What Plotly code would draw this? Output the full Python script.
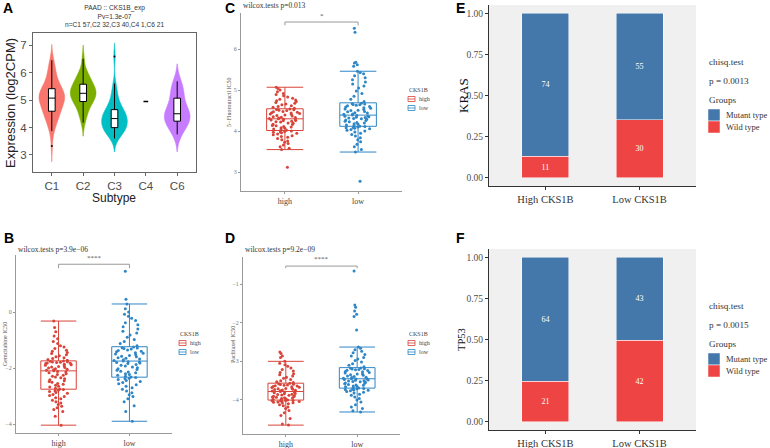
import plotly.graph_objects as go

W, H = 770, 448

# ---------------- data ----------------
subtypes = ["C1", "C2", "C3", "C4", "C6"]
c1_expr = [3.33, 3.87, 3.95, 4.05, 4.15, 4.22, 4.3, 4.36, 4.42, 4.47, 4.5, 4.53, 4.55, 4.57,
           4.6, 4.65, 4.7, 4.75, 4.8, 4.84, 4.88, 4.92, 4.95, 4.98, 5.0, 5.02, 5.04, 5.06,
           5.07,
           5.09, 5.11, 5.13, 5.15, 5.17, 5.19, 5.21, 5.24, 5.27, 5.3, 5.33, 5.36, 5.38, 5.4,
           5.45, 5.5, 5.55, 5.6, 5.66, 5.72, 5.8, 5.88, 5.96, 6.05, 6.15, 6.25, 6.35, 6.45]
c2_expr = [4.18, 4.35, 4.5, 4.62, 4.72, 4.8, 4.86, 4.92,
           4.97, 5.02, 5.07, 5.11, 5.15, 5.18, 5.21,
           5.23, 5.26, 5.3, 5.34, 5.38, 5.42, 5.46, 5.5,
           5.55, 5.6, 5.66, 5.72, 5.8, 5.88, 5.96, 6.05, 6.5]
c3_expr = [3.6, 3.68, 3.75, 3.8, 3.85, 3.88, 3.91, 3.94, 3.96, 3.98,
           4.01, 4.05, 4.08, 4.12, 4.15, 4.19, 4.22, 4.25, 4.28, 4.31,
           4.34, 4.37, 4.4, 4.43, 4.46, 4.5, 4.53, 4.56, 4.59, 4.62,
           4.68, 4.75, 4.82, 4.9, 5.0, 5.1, 5.25, 5.4, 5.6, 6.58]
c4_expr = [4.95]
c6_expr = [3.75, 3.9, 4.02, 4.12, 4.2, 4.24, 4.3, 4.36, 4.42, 4.47, 4.5,
           4.56, 4.64, 4.73, 4.85, 5.03, 5.18, 5.3, 5.42, 5.55, 5.68]

cks1b_groups = ["high", "low"]
gem_high = [-4.04, -3.72, -3.55, -3.48, -3.42, -3.36, -3.3, -3.25, -3.2, -3.15, -3.1, -3.06, -3.02,
            -2.98, -2.94, -2.9, -2.87, -2.84, -2.81, -2.79, -2.77,
            -2.75,
            -2.72, -2.68, -2.65, -2.61, -2.58, -2.55, -2.51, -2.48, -2.45, -2.42, -2.38, -2.35,
            -2.32, -2.29, -2.26, -2.23, -2.2, -2.17, -2.14, -2.12,
            -2.1,
            -2.08, -2.06, -2.04, -2.02, -2.0, -1.98, -1.96, -1.94, -1.92, -1.9, -1.88, -1.86,
            -1.84, -1.83, -1.82, -1.8, -1.79, -1.78, -1.77, -1.76,
            -1.75,
            -1.72, -1.69, -1.66, -1.63, -1.6, -1.56, -1.52, -1.48, -1.44, -1.4, -1.36, -1.3,
            -1.25, -1.2, -1.12, -1.05, -0.95, -0.85, -0.7, -0.55, -0.32]
gem_low = [-3.9, -3.55, -3.35, -3.2, -3.1, -3.02, -2.95, -2.88, -2.82, -2.76, -2.7, -2.65, -2.6,
           -2.56, -2.52, -2.48, -2.44, -2.41, -2.38, -2.36, -2.34,
           -2.32,
           -2.29, -2.26, -2.23, -2.2, -2.17, -2.14, -2.11, -2.08, -2.05, -2.02, -1.99, -1.96,
           -1.93, -1.9, -1.87, -1.84, -1.82, -1.8, -1.78, -1.77,
           -1.75,
           -1.73, -1.7, -1.68, -1.65, -1.63, -1.6, -1.58, -1.55, -1.52, -1.5, -1.47, -1.45,
           -1.42, -1.4, -1.37, -1.35, -1.32, -1.3, -1.28, -1.27,
           -1.25,
           -1.2, -1.12, -1.05, -0.98, -0.9, -0.82, -0.75, -0.68, -0.6, -0.52, -0.45, -0.38,
           -0.3, -0.22, -0.15, -0.08, 0.0, 0.12, 0.29, 0.46, 1.46]
fu_high = [3.12, 3.55, 3.58, 3.62, 3.66, 3.7, 3.73, 3.76, 3.79, 3.82, 3.85, 3.87, 3.89, 3.91,
           3.93, 3.95, 3.96, 3.97, 3.98, 3.99, 4.0,
           4.02,
           4.04, 4.05, 4.07, 4.08, 4.1, 4.11, 4.13, 4.14, 4.16, 4.17, 4.19, 4.2, 4.22, 4.23,
           4.24, 4.25, 4.26, 4.27, 4.28, 4.29,
           4.3,
           4.31, 4.32, 4.33, 4.34, 4.35, 4.37, 4.38, 4.39, 4.41, 4.42, 4.43, 4.44, 4.45, 4.46,
           4.47, 4.48, 4.5, 4.51, 4.52, 4.53,
           4.54,
           4.56, 4.58, 4.6, 4.62, 4.64, 4.66, 4.68, 4.7, 4.72, 4.74, 4.76, 4.78, 4.8, 4.83,
           4.86, 4.89, 4.92, 4.96, 5.0, 5.04, 5.07]
fu_low = [2.78, 3.49, 3.55, 3.62, 3.68, 3.74, 3.79, 3.84, 3.88, 3.92, 3.95, 3.98, 4.0, 4.02,
          4.04, 4.06, 4.07, 4.08, 4.09, 4.1, 4.11,
          4.12,
          4.14, 4.15, 4.17, 4.18, 4.2, 4.21, 4.23, 4.24, 4.26, 4.27, 4.29, 4.3, 4.31, 4.32,
          4.33, 4.34, 4.35, 4.36, 4.37, 4.38,
          4.39,
          4.41, 4.42, 4.44, 4.45, 4.47, 4.48, 4.5, 4.51, 4.53, 4.54, 4.56, 4.57, 4.59, 4.6,
          4.62, 4.63, 4.64, 4.65, 4.66, 4.67,
          4.68,
          4.72, 4.78, 4.85, 4.92, 4.98, 5.05, 5.1, 5.15, 5.2, 5.25, 5.3, 5.35, 5.4, 5.43,
          5.46, 5.58, 5.62, 5.66, 5.68, 6.41, 6.51]
pac_high = [-4.65, -4.62, -4.48, -4.4, -4.33, -4.27, -4.22, -4.18, -4.15, -4.12, -4.1, -4.08,
            -4.07, -4.06, -4.05, -4.04, -4.03, -4.02, -4.02, -4.01, -4.01,
            -4.0,
            -3.99, -3.98, -3.97, -3.96, -3.95, -3.94, -3.93, -3.92, -3.91, -3.9, -3.89, -3.88,
            -3.87, -3.86, -3.85, -3.84, -3.83, -3.81, -3.8, -3.79,
            -3.78,
            -3.77, -3.76, -3.75, -3.74, -3.73, -3.72, -3.71, -3.7, -3.69, -3.68, -3.67, -3.66,
            -3.65, -3.64, -3.63, -3.62, -3.61, -3.6, -3.59, -3.58,
            -3.57,
            -3.55, -3.53, -3.5, -3.47, -3.44, -3.41, -3.38, -3.35, -3.32, -3.29, -3.25, -3.21,
            -3.17, -3.13, -3.09, -3.05, -3.0, -2.9, -2.86, -2.8, -2.76]
pac_low = [-4.31, -4.28, -4.22, -4.18, -4.12, -4.05, -4.0, -3.96, -3.92, -3.88, -3.85, -3.82,
           -3.8, -3.78, -3.76, -3.75, -3.74, -3.73, -3.72, -3.71, -3.7,
           -3.69,
           -3.68, -3.66, -3.65, -3.64, -3.62, -3.61, -3.6, -3.58, -3.57, -3.56, -3.54, -3.53,
           -3.52, -3.51, -3.5, -3.49, -3.48, -3.47, -3.46, -3.46,
           -3.45,
           -3.44, -3.42, -3.41, -3.39, -3.38, -3.36, -3.35, -3.33, -3.32, -3.3, -3.29, -3.27,
           -3.26, -3.24, -3.23, -3.22, -3.21, -3.2, -3.19, -3.18,
           -3.17,
           -3.14, -3.1, -3.06, -3.02, -2.98, -2.94, -2.9, -2.86, -2.82, -2.78, -2.74, -2.7,
           -2.66, -2.63, -2.19, -1.84, -1.78, -1.7, -1.6, -1.54, -0.66]

bar_groups = ["High CKS1B", "Low CKS1B"]
kras_wild = [11, 30]
kras_mutant = [74, 55]
tp53_wild = [21, 42]
tp53_mutant = [64, 43]

# ---------------- styling ----------------
sans = "Liberation Sans"
serif = "Liberation Serif"
violin_cols = {"C1": "#F8766D", "C2": "#7CAE00", "C3": "#00BFC4", "C6": "#C77CFF"}
col_high = "#D8443A"
col_low = "#2F86C6"
col_mutant = "#4477AA"
col_wild = "#EE4444"


def pxx(a, b):
    return [a / W, b / W]


def pxy(top, bottom):
    return [1 - bottom / H, 1 - top / H]


fig = go.Figure()

# ---- A: violins ----
for name, vals in [("C1", c1_expr), ("C2", c2_expr), ("C3", c3_expr), ("C6", c6_expr)]:
    c = violin_cols[name]
    fig.add_trace(go.Violin(
        x=[name] * len(vals), y=vals, xaxis="x", yaxis="y",
        fillcolor=c, line=dict(color=c, width=0.5), opacity=1,
        width=0.82, scalemode="width", spanmode="soft",
        box=dict(visible=True, width=0.26, fillcolor="white", line=dict(color="black", width=1)),
        meanline=dict(visible=False), points="outliers", pointpos=0, jitter=0,
        marker=dict(color="black", size=2), showlegend=False, hoverinfo="skip"))
fig.add_trace(go.Box(x=["C4"] * len(c4_expr), y=c4_expr, xaxis="x", yaxis="y",
                     width=0.15, fillcolor="white", line=dict(color="black", width=1.5),
                     boxpoints=False, showlegend=False, hoverinfo="skip"))


# ---- B, C, D: box + jitter ----
def add_box(vals, group, color, idx):
    fig.add_trace(go.Box(
        x=[group] * len(vals), y=vals, xaxis=f"x{idx}", yaxis=f"y{idx}",
        boxpoints="all", jitter=0.9, pointpos=0, width=0.5, whiskerwidth=1,
        fillcolor="rgba(255,255,255,0)", line=dict(color=color, width=1),
        marker=dict(color=color, size=3, line=dict(width=0)),
        showlegend=False, hoverinfo="skip"))


add_box(gem_high, "high", col_high, 2)
add_box(gem_low, "low", col_low, 2)
add_box(fu_high, "high", col_high, 3)
add_box(fu_low, "low", col_low, 3)
add_box(pac_high, "high", col_high, 4)
add_box(pac_low, "low", col_low, 4)

# ---- E, F: stacked proportions ----
for wild, mut, idx in [(kras_wild, kras_mutant, 5), (tp53_wild, tp53_mutant, 6)]:
    tot = [w + m for w, m in zip(wild, mut)]
    for counts, col in [(wild, col_wild), (mut, col_mutant)]:
        fig.add_trace(go.Bar(
            x=bar_groups, y=[c / t for c, t in zip(counts, tot)], text=counts,
            xaxis=f"x{idx}", yaxis=f"y{idx}", width=0.5,
            marker=dict(color=col, line=dict(color="white", width=0.5)),
            textposition="inside", insidetextanchor="middle", textangle=0,
            textfont=dict(family=serif, size=8, color="white"),
            showlegend=False, hoverinfo="skip"))

# ---------------- axes ----------------
ax_a = dict(showline=True, mirror=True, linecolor="#666", linewidth=1, ticks="outside",
            ticklen=3, tickcolor="#666", showgrid=False, zeroline=False,
            tickfont=dict(family=sans, size=11.5, color="#4D4D4D"))
ax_box = dict(showline=True, linecolor="#9a9a9a", linewidth=1.2, ticks="outside", ticklen=2,
              tickcolor="#9a9a9a", showgrid=False, zeroline=False,
              tickfont=dict(family=serif, size=6, color="#777"))
ax_box_x = dict(ax_box, tickfont=dict(family=serif, size=8, color="#444"),
                type="category", categoryarray=cks1b_groups, range=[-0.6, 1.6])
ax_bar = dict(showline=True, linecolor="#333", linewidth=1, ticks="outside", ticklen=3,
              tickcolor="#333", showgrid=False, zeroline=False,
              tickfont=dict(family=serif, size=9.5, color="#4D4D4D"))
prop_ticks = [0, 0.25, 0.5, 0.75, 1.0]

fig.update_layout(
    width=W, height=H, margin=dict(l=0, r=0, t=0, b=0),
    paper_bgcolor="white", plot_bgcolor="white",
    barmode="stack", hovermode=False, showlegend=False,
    xaxis=dict(ax_a, domain=pxx(33, 196), anchor="y", type="category",
               categoryarray=subtypes, range=[-0.6, 4.6]),
    yaxis=dict(ax_a, domain=pxy(33, 172), anchor="x", range=[2.38, 7.44],
               tickvals=[3, 4, 5, 6, 7]),
    xaxis2=dict(ax_box_x, domain=pxx(16, 172), anchor="y2"),
    yaxis2=dict(ax_box, domain=pxy(255, 433), anchor="x2", range=[-4.32, 2.04],
                tickvals=[-4, -2, 0]),
    xaxis3=dict(ax_box_x, domain=pxx(241, 402), anchor="y3"),
    yaxis3=dict(ax_box, domain=pxy(13, 191), anchor="x3", range=[2.54, 6.88],
                tickvals=[3, 4, 5, 6]),
    xaxis4=dict(ax_box_x, domain=pxx(243, 400), anchor="y4"),
    yaxis4=dict(ax_box, domain=pxy(257, 434), anchor="x4", range=[-4.88, -0.3],
                tickvals=[-4, -3, -2, -1]),
    xaxis5=dict(ax_bar, domain=pxx(489, 696), anchor="y5", type="category",
                categoryarray=bar_groups, range=[-0.6, 1.6],
                tickfont=dict(family=serif, size=10.5, color="#333")),
    yaxis5=dict(ax_bar, domain=pxy(5, 186), anchor="x5", range=[-0.05, 1.05],
                tickvals=prop_ticks, ticktext=[f"{v:.2f}" for v in prop_ticks]),
    xaxis6=dict(ax_bar, domain=pxx(489, 696), anchor="y6", type="category",
                categoryarray=bar_groups, range=[-0.6, 1.6],
                tickfont=dict(family=serif, size=10.5, color="#333")),
    yaxis6=dict(ax_bar, domain=pxy(249, 430), anchor="x6", range=[-0.05, 1.05],
                tickvals=prop_ticks, ticktext=[f"{v:.2f}" for v in prop_ticks]),
)
fig.add_shape(type="rect", xref="x5 domain", yref="y5 domain", x0=0, x1=1, y0=0, y1=1,
              fillcolor="#F0F0F0", line=dict(width=0), layer="below")
fig.add_shape(type="rect", xref="x6 domain", yref="y6 domain", x0=0, x1=1, y0=0, y1=1,
              fillcolor="#F0F0F0", line=dict(width=0), layer="below")


# ---------------- text helpers ----------------
def txt(x, y, s, size, family=serif, color="#333", xanchor="left", angle=0, bold=False):
    if bold:
        s = f"<b>{s}</b>"
    fig.add_annotation(x=x / W, y=1 - y / H, xref="paper", yref="paper", text=s,
                       showarrow=False, xanchor=xanchor, yanchor="middle", textangle=angle,
                       font=dict(family=family, size=size, color=color))


# panel letters
for letter, x, y in [("A", 1, 8), ("B", 2, 238), ("C", 223, 8), ("D", 223, 238),
                     ("E", 454, 8), ("F", 454, 238)]:
    txt(x, y, letter, 14, family=sans, color="black", bold=True)

# A texts
txt(114, 16.5, "PAAD :: CKS1B_exp<br>Pv=1.3e-07<br>n=C1 57,C2 32,C3 40,C4 1,C6 21", 6.6,
    family=sans, xanchor="center")
txt(10, 103, "Expression (log2CPM)", 13, family=sans, color="#222", xanchor="center", angle=-90)
txt(114, 198, "Subtype", 12, family=sans, color="#222", xanchor="center")

# B, C, D texts
txt(16, 249, "wilcox.tests p=3.9e−06", 7.5)
txt(241, 6, "wilcox.tests p=0.013", 7.5)
txt(243, 249, "wilcox.tests p=9.2e−09", 7.5)
txt(5, 344, "Gemcitabine IC50", 6, color="#555", xanchor="center", angle=-90)
txt(229, 102, "5−Fluorouracil IC50", 6, color="#555", xanchor="center", angle=-90)
txt(233, 345, "Paclitaxel IC50", 6, color="#555", xanchor="center", angle=-90)

# significance brackets
for idx, y_top, y_tick, y_star, stars in [(2, 1.71, 1.57, 1.95, "****"),
                                          (3, 6.66, 6.58, 6.8, "*"),
                                          (4, -0.535, -0.59, -0.36, "****")]:
    fig.add_shape(type="path", xref=f"x{idx}", yref=f"y{idx}",
                  path=f"M 0,{y_tick} L 0,{y_top} L 1,{y_top} L 1,{y_tick}",
                  line=dict(color="#999", width=1))
    fig.add_annotation(x=0.5, y=y_star, xref=f"x{idx}", yref=f"y{idx}", text=stars,
                       showarrow=False, font=dict(family=serif, size=7, color="#555"))


# CKS1B legends
def cks_legend(x, y):
    txt(x, y, "CKS1B", 6, color="#444")
    for i, (lab, col) in enumerate([("high", col_high), ("low", col_low)]):
        yy = y + 9 + i * 9
        fig.add_shape(type="rect", xref="paper", yref="paper",
                      x0=(x + 1) / W, x1=(x + 8) / W, y0=1 - (yy + 2.5) / H, y1=1 - (yy - 2.5) / H,
                      line=dict(color=col, width=0.8), fillcolor="white")
        fig.add_shape(type="line", xref="paper", yref="paper",
                      x0=(x + 1) / W, x1=(x + 8) / W, y0=1 - yy / H, y1=1 - yy / H,
                      line=dict(color=col, width=0.8))
        txt(x + 10, yy, lab, 6, color="#444")


cks_legend(178, 334)
cks_legend(407, 90)
cks_legend(407, 334)

# E, F texts
txt(463, 96, "KRAS", 13, xanchor="center", angle=-90, color="#111")
txt(461, 340, "TP53", 10.5, xanchor="center", angle=-90, color="#111")


def chisq_legend(y0, pval):
    txt(707, y0, "chisq.test", 9.2)
    txt(707, y0 + 19, f"p = {pval}", 9.2)
    txt(707, y0 + 38, "Groups", 9.2)
    for i, (lab, col) in enumerate([("Mutant type", col_mutant), ("Wild type", col_wild)]):
        yy = y0 + 53 + i * 12
        fig.add_shape(type="rect", xref="paper", yref="paper",
                      x0=708 / W, x1=720 / W, y0=1 - (yy + 6) / H, y1=1 - (yy - 6) / H,
                      line=dict(color="white", width=0.5), fillcolor=col)
        txt(724, yy, lab, 8.5)


chisq_legend(62, "0.0013")
chisq_legend(306, "0.0015")

fig.write_html("out.html", config={"displayModeBar": False},
               post_script="document.body.style.margin='0';document.body.style.overflow='hidden';")
